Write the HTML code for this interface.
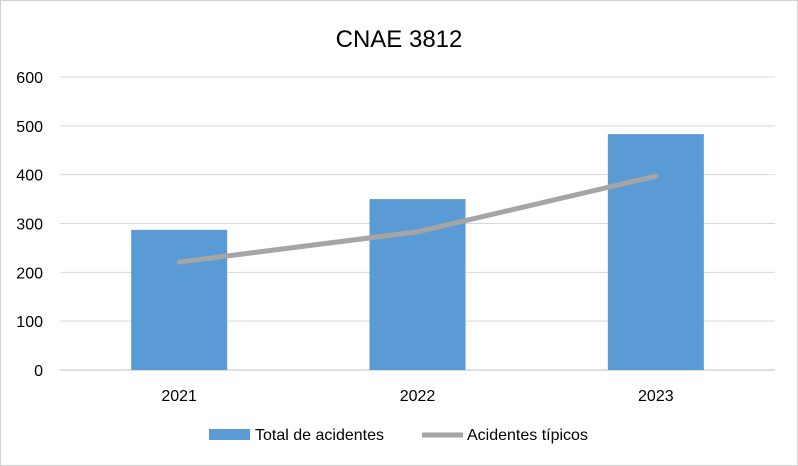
<!DOCTYPE html>
<html><head><meta charset="utf-8"><style>
body{margin:0;background:#fff;}
svg{display:block;font-family:"Liberation Sans",Arial,sans-serif;}
</style></head><body>
<svg id="chart" width="798" height="466">
<rect x="0.5" y="0.5" width="797" height="465" fill="#fff" stroke="#d0d0d0"/>
<text x="399" y="47" text-anchor="middle" font-size="24" fill="#000">CNAE 3812</text>
<g id="grid"></g><g id="bars"></g><g id="line"></g><g id="labels"></g>
<g>
<rect x="209" y="429" width="41" height="11" fill="#5b9bd5"/>
<text x="255" y="440" font-size="16" fill="#000">Total de acidentes</text>
<line x1="422" y1="435" x2="463" y2="435" stroke="#a5a5a5" stroke-width="5"/>
<text x="467" y="440" font-size="16" fill="#000">Acidentes típicos</text>
</g>
</svg>
<script>
const categories=["2021","2022","2023"];
const totalValues=[287,350,483];
const tipicosValues=[221,283,397];
const yTicks=[0,100,200,300,400,500,600];
const ns="http://www.w3.org/2000/svg";
const x0=60,x1=775,yBase=370,yTop=77,yMax=600;
const band=(x1-x0)/categories.length;
const xc=i=>x0+band*(i+0.5);
const y=v=>yBase-(v/yMax)*(yBase-yTop);
function mk(t,a,p){const e=document.createElementNS(ns,t);for(const k in a)e.setAttribute(k,a[k]);p.appendChild(e);return e;}
const g=document.getElementById('grid'),b=document.getElementById('bars'),l=document.getElementById('line'),lb=document.getElementById('labels');
yTicks.forEach(t=>{
 const ln=mk('line',{x1:x0,x2:x1,y1:y(t),y2:y(t),stroke:t===0?'#bfbfbf':'#d9d9d9','stroke-width':1},g);
 
 
 const tx=mk('text',{x:43,y:y(t)+6,'text-anchor':'end','font-size':16,fill:'#000'},lb);
 tx.textContent=t;
 
 
});
const bw=96;
categories.forEach((c,i)=>{
 const r=mk('rect',{x:xc(i)-bw/2,y:y(totalValues[i]),width:bw,height:yBase-y(totalValues[i]),fill:'#5b9bd5'},b);
 
 
 const tx=mk('text',{x:xc(i),y:401,'text-anchor':'middle','font-size':16,fill:'#000'},lb);
 tx.textContent=c;
 
 
});
const pl=mk('polyline',{points:tipicosValues.map((v,i)=>xc(i)+','+y(v)).join(' '),fill:'none',stroke:'#a5a5a5','stroke-width':5,'stroke-linecap':'round','stroke-linejoin':'round'},l);


</script>
</body></html>
